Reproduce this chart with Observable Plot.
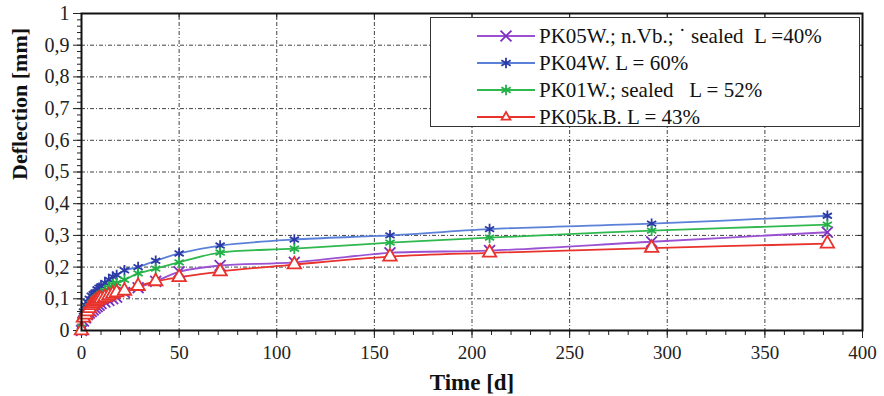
<!DOCTYPE html>
<html><head><meta charset="utf-8">
<script src="https://cdn.jsdelivr.net/npm/d3@7"></script>
<script src="https://cdn.jsdelivr.net/npm/@observablehq/plot@0.6"></script>
<style>
body{margin:0;background:#fff;font-family:"Liberation Serif","Times New Roman","DejaVu Serif",serif;}
#wrap{position:relative;width:884px;height:396px;}
#wrap svg text{font-family:"Liberation Serif","Times New Roman","DejaVu Serif",serif;}
#legend{position:absolute;left:430px;top:17px;width:430px;height:110px;border:1.5px solid #333;background:#fff;box-sizing:border-box;}
.row{position:absolute;left:0;height:26px;display:flex;align-items:center;font-size:21px;color:#111;white-space:pre;}
.row svg{margin-left:46px;margin-right:4px;}
</style></head>
<body><div id="wrap"></div>
<script>
const times = [0,1,2,3,4,5,6,7,8,9,10,12,14,16,18,22,29,38,50,71,109,158,209,292,382];
const pk05w = [0.00,0.03,0.04,0.05,0.055,0.06,0.065,0.07,0.075,0.08,0.085,0.09,0.095,0.10,0.105,0.12,0.135,0.155,0.185,0.205,0.215,0.245,0.252,0.28,0.31];
const pk04w = [0.00,0.06,0.08,0.09,0.10,0.11,0.115,0.12,0.13,0.135,0.14,0.15,0.16,0.17,0.175,0.19,0.20,0.22,0.243,0.268,0.287,0.30,0.32,0.337,0.362];
const pk01w = [0.01,0.04,0.055,0.065,0.075,0.085,0.09,0.10,0.105,0.11,0.115,0.125,0.135,0.145,0.15,0.16,0.18,0.195,0.215,0.246,0.258,0.277,0.293,0.315,0.334];
const pk05kb = [0.00,0.04,0.05,0.06,0.07,0.08,0.085,0.09,0.095,0.10,0.10,0.105,0.11,0.115,0.12,0.125,0.14,0.155,0.168,0.186,0.208,0.233,0.245,0.26,0.274];
const seriesNames = ["PK05W.; n.Vb.; \u02d9 sealed  L =40%","PK04W. L = 60%","PK01W.; sealed   L = 52%","PK05k.B. L = 43%"];
const lineColors = ["#9a52d2","#5b80d8","#2fb84e","#e8322b"];
const markColors = ["#7a30c0","#2c3aa6","#22b048","#e8322b"];
const symbols = ["times","asterisk","asterisk","triangle"];
const xTicks = [0,50,100,150,200,250,300,350,400];
const yTicks = [0,0.1,0.2,0.3,0.4,0.5,0.6,0.7,0.8,0.9,1];
const yTickLabels = ["0","0,1","0,2","0,3","0,4","0,5","0,6","0,7","0,8","0,9","1"];
const xMinor = d3.range(0,401,10);
const yMinor = d3.range(0,1.001,0.02);

const allSeries = [pk05w,pk04w,pk01w,pk05kb];
const data = allSeries.map(vals => times.map((t,i)=>({t, v: vals[i]})));

const serif = "Liberation Serif, Times New Roman, DejaVu Serif, serif";
const grid = {stroke:"#222", strokeOpacity:0.85, strokeWidth:1, strokeDasharray:"4,2,1,2"};
const marks = [
  Plot.gridX(xTicks.slice(1,-1), grid),
  Plot.gridY(yTicks.slice(1,-1), grid),
  Plot.axisX(xMinor, {tickSize:5, text:null, stroke:"#222", label:null}),
  Plot.axisX(xTicks, {tickSize:8, tickPadding:7, fontSize:19, fill:"#222", stroke:"#222", label:null}),
  Plot.axisY(yMinor, {tickSize:4, text:null, stroke:"#222", label:null}),
  Plot.axisY(yTicks, {tickSize:8, tickPadding:4, fontSize:20, fill:"#222", stroke:"#222", label:null, tickFormat:(d,i)=>yTickLabels[i]}),
  Plot.axisX(xTicks, {anchor:"top", tickSize:-5, text:null, stroke:"#222", label:null}),
  Plot.axisY(yTicks, {anchor:"right", tickSize:-5, text:null, stroke:"#222", label:null}),
];
data.forEach((d,k)=>{
  marks.push(Plot.line(d, {x:"t", y:"v", stroke:lineColors[k], strokeWidth:1.8, curve:"catmull-rom"}));
});
data.forEach((d,k)=>{
  marks.push(Plot.dot(d, {x:"t", y:"v", stroke:markColors[k], symbol:symbols[k], r:5, strokeWidth:1.8, fill: symbols[k]==="triangle" ? "white" : "none"}));
});
marks.push(Plot.frame({stroke:"#111", strokeWidth:2}));
marks.push(Plot.text(["Time [d]"], {frameAnchor:"bottom", dy:59, fontWeight:"bold", fontSize:23, fill:"#111"}));
marks.push(Plot.text(["Deflection [mm]"], {frameAnchor:"left", dx:-62, dy:8, rotate:-90, fontWeight:"bold", fontSize:22, fill:"#111"}));

const chart = Plot.plot({
  width:884, height:396,
  marginLeft:81, marginRight:22, marginTop:13, marginBottom:66,
  style:{fontFamily:serif, background:"white", overflow:"visible"},
  x:{domain:[0,400]},
  y:{domain:[0,1]},
  marks
});
const wrap = document.getElementById("wrap");
wrap.appendChild(chart);

const legend = document.createElement("div");
legend.id = "legend";
seriesNames.forEach((name,k)=>{
  const row = document.createElement("div");
  row.className = "row";
  row.style.top = (5 + k*27) + "px";
  const svg = d3.create("svg").attr("width",58).attr("height",20);
  svg.append("line").attr("x1",0).attr("x2",58).attr("y1",10).attr("y2",10).attr("stroke",lineColors[k]).attr("stroke-width",1.8);
  const symMap = {times:d3.symbolTimes, asterisk:d3.symbolAsterisk, triangle:d3.symbolTriangle2};
  svg.append("path").attr("d", d3.symbol(symMap[symbols[k]], symbols[k]==="triangle"?55:80)()).attr("transform","translate(29,10)")
    .attr("stroke",markColors[k]).attr("stroke-width",1.8).attr("fill", symbols[k]==="triangle"?"white":"none");
  row.appendChild(svg.node());
  const span = document.createElement("span");
  span.textContent = name;
  row.appendChild(span);
  legend.appendChild(row);
});
wrap.appendChild(legend);
</script>
</body></html>
